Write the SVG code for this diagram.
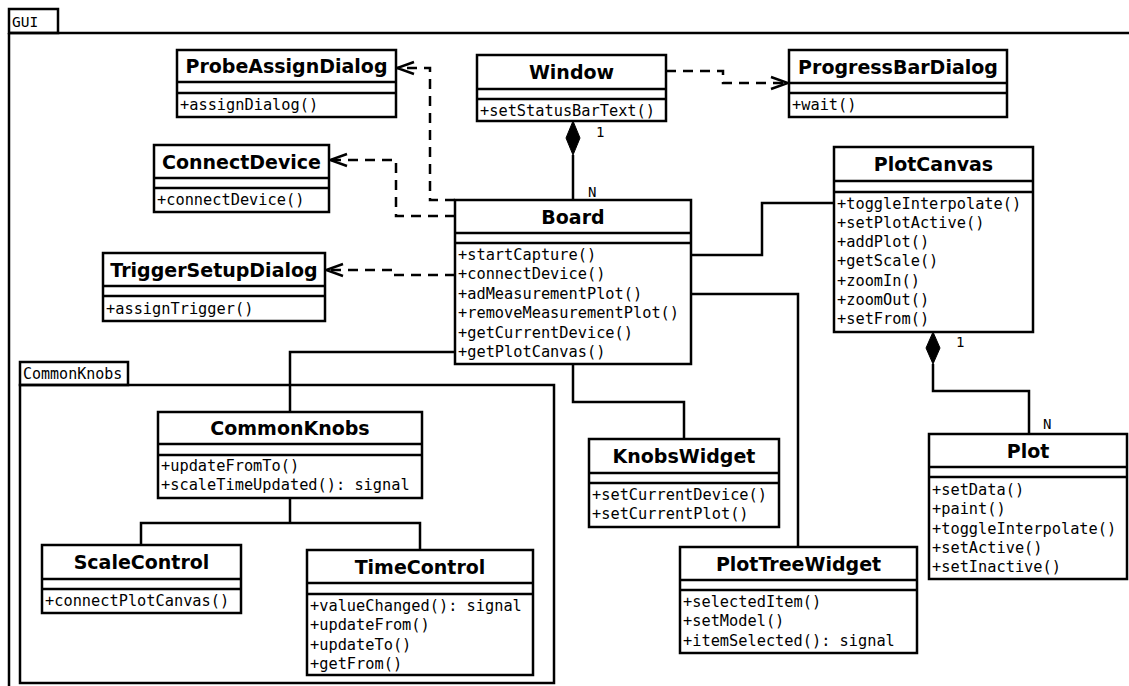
<svg xmlns="http://www.w3.org/2000/svg" width="1129" height="686" viewBox="0 0 1129 686">
<style>
.box{fill:#fff;stroke:#000;stroke-width:2.5}
.ln{stroke:#000;stroke-width:2.5;fill:none}
.title{font-family:"DejaVu Sans",sans-serif;font-weight:bold;font-size:19px;text-anchor:middle;fill:#000}
.m{font-family:"DejaVu Sans Mono",monospace;font-size:15.3px;fill:#000}
.lbl{font-family:"DejaVu Sans Mono",monospace;font-size:14px;fill:#000}
.con{stroke:#000;stroke-width:2.5;fill:none}
.dash{stroke-dasharray:10 7}
.pkg{fill:none;stroke:#000;stroke-width:2.5}
.pk{font-family:"DejaVu Sans Mono",monospace;font-size:14.5px;fill:#000}
.pk2{font-family:"DejaVu Sans Mono",monospace;font-size:15px;fill:#000}
</style>
<defs>
<marker id="open" viewBox="-19 -8 21 16" refX="0" refY="0" markerWidth="21" markerHeight="16" markerUnits="userSpaceOnUse" orient="auto">
<path d="M-17,-6 L0,0 L-17,6" fill="none" stroke="#000" stroke-width="2.5" stroke-dasharray="none"/>
</marker>
</defs>
<rect width="1129" height="686" fill="#fff"/>
<g id="pkg-gui">
<rect class="pkg" x="9" y="9" width="49" height="24"/>
<path class="pkg" d="M9,33 L1131,33 M9,33 L9,690"/>
<text class="pk" x="12" y="27">GUI</text>
</g>
<g id="pkg-commonknobs">
<rect class="pkg" x="20" y="362" width="108" height="23"/>
<rect class="pkg" x="20" y="385" width="534" height="298"/>
<text class="pk2" x="23" y="379">CommonKnobs</text>
</g>
<g id="connectors">
<path class="con dash" d="M455,200 L430,200 L430,68 L397,68" marker-end="url(#open)"/>
<path class="con dash" d="M455,216 L396,216 L396,160 L330,160" marker-end="url(#open)"/>
<path class="con dash" d="M455,275 L393,275 L393,270 L326,270" marker-end="url(#open)"/>
<path class="con dash" d="M666,71 L723,71 L723,83 L788,83" marker-end="url(#open)"/>
<path class="con" d="M573,155 L573,200"/>
<polygon points="573,121 580,138 573,155 566,138" fill="#000" stroke="#000" stroke-width="1"/>
<path class="con" d="M691,255 L762,255 L762,203 L834,203"/>
<path class="con" d="M691,294 L798,294 L798,547"/>
<path class="con" d="M573,364 L573,402 L684,402 L684,439"/>
<path class="con" d="M455,352 L290,352 L290,412"/>
<path class="con" d="M290,498 L290,523 L141,523 L141,545 M290,523 L420,523 L420,550"/>
<path class="con" d="M933,364 L933,391 L1029,391 L1029,434"/>
<polygon points="933,332 940,348 933,364 926,348" fill="#000" stroke="#000" stroke-width="1"/>
<text class="lbl" x="596" y="137">1</text>
<text class="lbl" x="588" y="197">N</text>
<text class="lbl" x="956" y="347">1</text>
<text class="lbl" x="1043" y="429">N</text>
</g>
<g id="ProbeAssignDialog">
<rect class="box" x="177" y="50" width="219" height="67"/>
<path class="ln" d="M177,82 H396 M177,93 H396"/>
<text class="title" x="286.5" y="73">ProbeAssignDialog</text>
<text class="m" x="180" y="110">+assignDialog()</text>
</g>
<g id="Window">
<rect class="box" x="477" y="55" width="189" height="66"/>
<path class="ln" d="M477,89 H666 M477,99 H666"/>
<text class="title" x="571.5" y="79">Window</text>
<text class="m" x="480" y="115.5">+setStatusBarText()</text>
</g>
<g id="ProgressBarDialog">
<rect class="box" x="789" y="50" width="218" height="67"/>
<path class="ln" d="M789,83 H1007 M789,93 H1007"/>
<text class="title" x="898" y="73.5">ProgressBarDialog</text>
<text class="m" x="792" y="110">+wait()</text>
</g>
<g id="ConnectDevice">
<rect class="box" x="154" y="145" width="175" height="67"/>
<path class="ln" d="M154,178 H329 M154,188 H329"/>
<text class="title" x="241.5" y="168.5">ConnectDevice</text>
<text class="m" x="157" y="205">+connectDevice()</text>
</g>
<g id="TriggerSetupDialog">
<rect class="box" x="103" y="253" width="222" height="68"/>
<path class="ln" d="M103,286 H325 M103,296 H325"/>
<text class="title" x="214" y="276.5">TriggerSetupDialog</text>
<text class="m" x="106" y="314">+assignTrigger()</text>
</g>
<g id="Board">
<rect class="box" x="455" y="200" width="236" height="164"/>
<path class="ln" d="M455,233 H691 M455,243 H691"/>
<text class="title" x="573" y="223.5">Board</text>
<text class="m" x="458" y="260">+startCapture()</text>
<text class="m" x="458" y="279.4">+connectDevice()</text>
<text class="m" x="458" y="298.8">+adMeasurementPlot()</text>
<text class="m" x="458" y="318.2">+removeMeasurementPlot()</text>
<text class="m" x="458" y="337.6">+getCurrentDevice()</text>
<text class="m" x="458" y="357">+getPlotCanvas()</text>
</g>
<g id="PlotCanvas">
<rect class="box" x="834" y="147" width="199" height="185"/>
<path class="ln" d="M834,181 H1033 M834,192 H1033"/>
<text class="title" x="933.5" y="171">PlotCanvas</text>
<text class="m" x="837" y="208.5">+toggleInterpolate()</text>
<text class="m" x="837" y="227.8">+setPlotActive()</text>
<text class="m" x="837" y="247.1">+addPlot()</text>
<text class="m" x="837" y="266.4">+getScale()</text>
<text class="m" x="837" y="285.7">+zoomIn()</text>
<text class="m" x="837" y="305">+zoomOut()</text>
<text class="m" x="837" y="324.3">+setFrom()</text>
</g>
<g id="Plot">
<rect class="box" x="929" y="434" width="198" height="145"/>
<path class="ln" d="M929,467 H1127 M929,477 H1127"/>
<text class="title" x="1028" y="457.5">Plot</text>
<text class="m" x="932" y="495">+setData()</text>
<text class="m" x="932" y="514.3">+paint()</text>
<text class="m" x="932" y="533.6">+toggleInterpolate()</text>
<text class="m" x="932" y="552.9">+setActive()</text>
<text class="m" x="932" y="572.2">+setInactive()</text>
</g>
<g id="KnobsWidget">
<rect class="box" x="589" y="439" width="190" height="88"/>
<path class="ln" d="M589,473 H779 M589,483 H779"/>
<text class="title" x="684" y="463">KnobsWidget</text>
<text class="m" x="592" y="500">+setCurrentDevice()</text>
<text class="m" x="592" y="519.3">+setCurrentPlot()</text>
</g>
<g id="PlotTreeWidget">
<rect class="box" x="680" y="547" width="237" height="106"/>
<path class="ln" d="M680,580 H917 M680,590 H917"/>
<text class="title" x="798.5" y="570.5">PlotTreeWidget</text>
<text class="m" x="683" y="607">+selectedItem()</text>
<text class="m" x="683" y="626.3">+setModel()</text>
<text class="m" x="683" y="645.6">+itemSelected(): signal</text>
</g>
<g id="CommonKnobs">
<rect class="box" x="158" y="412" width="264" height="86"/>
<path class="ln" d="M158,444 H422 M158,455 H422"/>
<text class="title" x="290" y="435">CommonKnobs</text>
<text class="m" x="161" y="471">+updateFromTo()</text>
<text class="m" x="161" y="490.3">+scaleTimeUpdated(): signal</text>
</g>
<g id="ScaleControl">
<rect class="box" x="42" y="545" width="199" height="68"/>
<path class="ln" d="M42,579 H241 M42,589 H241"/>
<text class="title" x="141.5" y="569">ScaleControl</text>
<text class="m" x="45" y="605.5">+connectPlotCanvas()</text>
</g>
<g id="TimeControl">
<rect class="box" x="307" y="550" width="226" height="125"/>
<path class="ln" d="M307,583 H533 M307,594 H533"/>
<text class="title" x="420" y="573.5">TimeControl</text>
<text class="m" x="310" y="611">+valueChanged(): signal</text>
<text class="m" x="310" y="630.3">+updateFrom()</text>
<text class="m" x="310" y="649.6">+updateTo()</text>
<text class="m" x="310" y="668.9">+getFrom()</text>
</g>
</svg>
